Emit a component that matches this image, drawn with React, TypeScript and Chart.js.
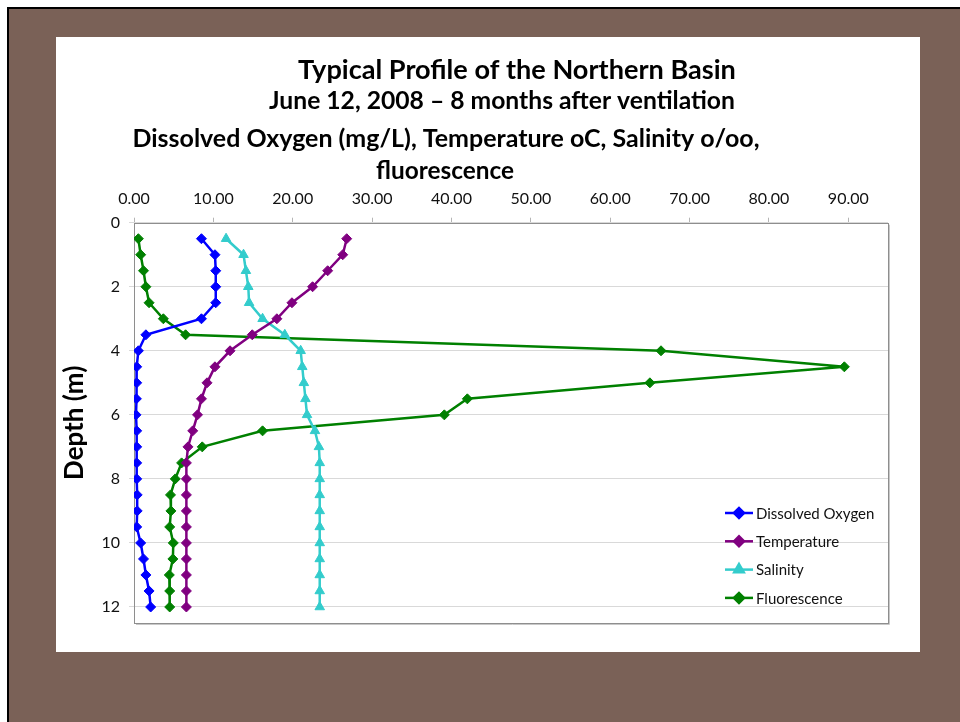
import React, { useEffect, useRef } from 'react';
import { Chart, registerables } from 'chart.js';
import { drawPoint } from 'chart.js/helpers';

Chart.register(...registerables);

// Depth (m) of each sample
const depths = [0.5, 1, 1.5, 2, 2.5, 3, 3.5, 4, 4.5, 5, 5.5, 6, 6.5, 7, 7.5, 8, 8.5, 9, 9.5, 10, 10.5, 11, 11.5, 12];

// Series values
const dissolvedOxygen = [8.5, 10.2, 10.3, 10.3, 10.3, 8.5, 1.5, 0.55, 0.34, 0.34, 0.3, 0.25, 0.34, 0.34, 0.34, 0.34, 0.4, 0.4, 0.34, 0.84, 1.2, 1.5, 1.9, 2.1];
const temperature = [26.8, 26.3, 24.4, 22.5, 19.9, 18.0, 14.9, 12.1, 10.2, 9.2, 8.5, 8.0, 7.4, 6.8, 6.6, 6.6, 6.6, 6.6, 6.6, 6.6, 6.6, 6.6, 6.6, 6.6];
const salinity = [11.6, 13.8, 14.1, 14.4, 14.5, 16.2, 19.0, 21.0, 21.2, 21.4, 21.6, 21.8, 22.8, 23.3, 23.4, 23.4, 23.4, 23.4, 23.4, 23.4, 23.4, 23.4, 23.4, 23.4];
const fluorescence = [0.55, 0.84, 1.2, 1.5, 1.9, 3.7, 6.5, 66.4, 89.5, 65.0, 42.0, 39.1, 16.2, 8.6, 6.0, 5.2, 4.6, 4.65, 4.5, 4.95, 4.9, 4.45, 4.5, 4.5];

const seriesNames = ['Dissolved Oxygen', 'Temperature', 'Salinity', 'Fluorescence'];

// Tick labels
const xTickValues = [0, 10, 20, 30, 40, 50, 60, 70, 80, 90];
const yTickValues = [0, 2, 4, 6, 8, 10, 12];
const xAxisMax = 95;
const yAxisMax = 12.5;

const titleLines = [
  'Typical Profile of the Northern Basin',
  'June 12, 2008 \u2013 8 months after ventilation',
  'Dissolved Oxygen (mg/L), Temperature oC, Salinity o/oo,',
  'fluorescence',
];
const yAxisTitle = 'Depth (m)';

const FONT = 'Lato, "Open Sans", sans-serif';

const toPoints = (vals: number[]) => vals.map((v, i) => ({ x: v, y: depths[i] }));

const titlePlugin = {
  id: 'multiTitle',
  afterDraw(chart: any) {
    const ctx = chart.ctx;
    // [centerX, centerY, targetWidth, baseSize]
    const layout = [
      [461, 33, 438, 24],
      [446, 64, 466, 21],
      [390, 102, 627, 21],
      [389, 134, 138, 21],
    ];
    ctx.save();
    ctx.fillStyle = '#000';
    ctx.textAlign = 'center';
    ctx.textBaseline = 'middle';
    titleLines.forEach((t, i) => {
      const [cx, cy, w, base] = layout[i];
      ctx.font = `bold ${base}px ${FONT}`;
      const m = ctx.measureText(t).width;
      const size = base * w / m;
      ctx.font = `bold ${size.toFixed(2)}px ${FONT}`;
      ctx.fillText(t, cx, cy);
    });
    ctx.restore();
  },
};

const frameLegendPlugin = {
  id: 'frameLegend',
  beforeDatasetsDraw(chart: any) {
    const { ctx, chartArea: a } = chart;
    ctx.save();
    ctx.strokeStyle = '#c8c8c8';
    ctx.lineWidth = 1;
    ctx.beginPath();
    ctx.moveTo(a.right + 1.5, a.top + 2);
    ctx.lineTo(a.right + 1.5, a.bottom + 1.5);
    ctx.lineTo(a.left + 2, a.bottom + 1.5);
    ctx.stroke();
    ctx.strokeStyle = '#8e8e8e';
    ctx.strokeRect(Math.round(a.left) + 0.5, Math.round(a.top) + 0.5, Math.round(a.right - a.left), Math.round(a.bottom - a.top));
    ctx.restore();
  },
  afterDraw(chart: any) {
    const { ctx, chartArea: a } = chart;
    ctx.save();
    const x0 = a.right - 163;
    chart.data.datasets.forEach((ds: any, i: number) => {
      const y = a.bottom - 110 + i * 28.3;
      ctx.strokeStyle = ds.borderColor;
      ctx.fillStyle = ds.borderColor;
      ctx.lineWidth = 2.5;
      ctx.beginPath();
      ctx.moveTo(x0, y);
      ctx.lineTo(x0 + 28, y);
      ctx.stroke();
      drawPoint(ctx, { pointStyle: ds.pointStyle, rotation: 0, radius: ds.pointRadius, borderWidth: 1 }, x0 + 14, y);
      ctx.fillStyle = '#111';
      ctx.font = `15px ${FONT}`;
      ctx.textAlign = 'left';
      ctx.textBaseline = 'middle';
      ctx.fillText(ds.label, x0 + 31, y + 1);
    });
    ctx.restore();
  },
};

export default function App() {
  const ref = useRef<HTMLCanvasElement | null>(null);

  useEffect(() => {
    if (!ref.current) return;
    const mk = (i: number, vals: number[], color: string, style: string, r: number) => ({
      label: seriesNames[i],
      data: toPoints(vals),
      showLine: true,
      borderColor: color,
      backgroundColor: color,
      pointBackgroundColor: color,
      pointBorderColor: color,
      borderWidth: 2.5,
      pointStyle: style,
      pointRadius: r,
      pointBorderWidth: 1,
      tension: 0,
    });
    const chart = new Chart(ref.current, {
      type: 'scatter',
      data: {
        datasets: [
          mk(0, dissolvedOxygen, '#0000ff', 'rectRot', 5),
          mk(1, temperature, '#800080', 'rectRot', 5),
          mk(2, salinity, '#33cccc', 'triangle', 5.5),
          mk(3, fluorescence, '#008000', 'rectRot', 5),
        ],
      },
      options: {
        responsive: false,
        maintainAspectRatio: false,
        animation: false,
        layout: { padding: { left: 0, top: 0, right: 32, bottom: 29 } },
        plugins: {
          legend: { display: false },
          title: { display: false },
          tooltip: { enabled: false },
        },
        scales: {
          x: {
            type: 'linear',
            position: 'top',
            min: 0,
            max: xAxisMax,
            afterBuildTicks: (s: any) => { s.ticks = xTickValues.map((v) => ({ value: v })); },
            afterFit: (s: any) => { s.height = 185.7; },
            ticks: {
              includeBounds: false,
              padding: 9,
              color: '#111',
              font: { family: FONT, size: 16 },
              callback: (v: any) => Number(v).toFixed(2),
              maxRotation: 0,
            },
            grid: { drawOnChartArea: false, tickLength: 5, color: '#b5b5b5' },
            border: { display: false },
          },
          y: {
            type: 'linear',
            reverse: true,
            min: 0,
            max: yAxisMax,
            afterBuildTicks: (s: any) => { s.ticks = yTickValues.map((v) => ({ value: v })); },
            afterFit: (s: any) => { s.width = 78; },
            ticks: {
              includeBounds: false,
              padding: 9,
              color: '#111',
              font: { family: FONT, size: 16 },
            },
            grid: { color: '#d9d9d9', tickLength: 5, lineWidth: 1 },
            border: { display: false },
            title: {
              display: true,
              text: yAxisTitle,
              color: '#000',
              font: { family: FONT, size: 26, weight: 'bold', lineHeight: 1.2 },
              padding: { top: 3, bottom: 0 },
            },
          },
        },
      },
      plugins: [titlePlugin, frameLegendPlugin],
    } as any);
    return () => chart.destroy();
  }, []);

  return (
    <div style={{ position: 'fixed', left: 0, top: 0, width: 960, height: 722, background: '#fff', overflow: 'hidden' }}>
      <div
        style={{
          position: 'absolute',
          left: 7,
          top: 7,
          width: 953,
          height: 715,
          boxSizing: 'border-box',
          borderTop: '2px solid #000',
          borderLeft: '2px solid #000',
          background: '#7a6157',
        }}
      />
      <canvas
        ref={ref}
        width={864}
        height={615}
        style={{ position: 'absolute', left: 56, top: 37, width: 864, height: 615, background: '#fff' }}
      />
    </div>
  );
}
